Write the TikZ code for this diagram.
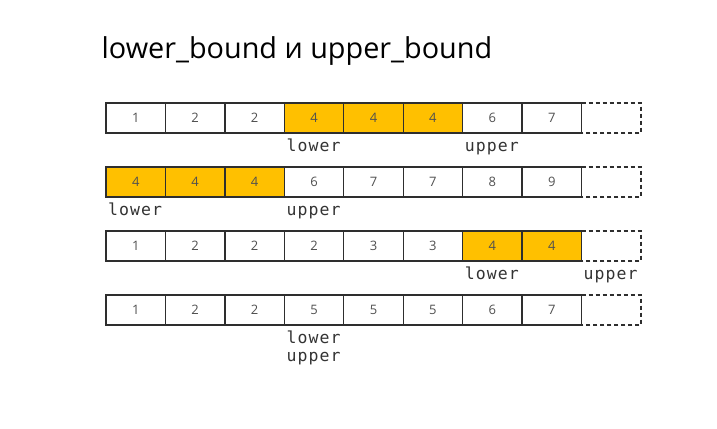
\documentclass[tikz,border=0pt]{standalone}
\usepackage{fontspec}
\setmainfont{Open Sans}
\newfontfamily\monof[LetterSpace=6.5]{DejaVu Sans Mono}
\newfontfamily\numf{Open Sans}
\definecolor{linec}{HTML}{2E2E2E}
\definecolor{numc}{HTML}{505050}
\definecolor{hl}{HTML}{FFC000}
\definecolor{labc}{HTML}{333333}
\begin{document}
\begin{tikzpicture}[x=1bp,y=-1bp]
\useasboundingbox[fill=white] (0,0) rectangle (717,428);
\tikzset{
  cell/.style={draw=linec, line width=1.4bp, minimum width=59.44bp, minimum height=30bp,
    inner sep=0pt, outer sep=0pt, font=\numf\fontsize{13bp}{15bp}\selectfont, text=numc},
  cwht/.style={cell, fill=white},
  cylw/.style={cell, fill=hl},
  dcell/.style={minimum width=59.44bp, minimum height=30bp, inner sep=0pt, outer sep=0pt},
  dline/.style={draw=linec, line width=1.4bp, dash pattern=on 4bp off 3bp},
  lab/.style={anchor=base west, inner sep=0pt, text=labc,
    font=\monof\fontsize{16.5bp}{18bp}\selectfont},
  ttl/.style={anchor=base west, inner sep=0pt, font=\fontsize{28.8bp}{34bp}\selectfont, text=black}
}
\node[ttl] (title) at (101.5,58) {lower\_bound и upper\_bound};
% rows
\foreach \r/\top/\vals in {1/103/{1/cwht,2/cwht,2/cwht,4/cylw,4/cylw,4/cylw,6/cwht,7/cwht},
                           2/167/{4/cylw,4/cylw,4/cylw,6/cwht,7/cwht,7/cwht,8/cwht,9/cwht},
                           3/231/{1/cwht,2/cwht,2/cwht,2/cwht,3/cwht,3/cwht,4/cylw,4/cylw},
                           4/295/{1/cwht,2/cwht,2/cwht,5/cwht,5/cwht,5/cwht,6/cwht,7/cwht}}{
  \foreach \v/\s [count=\i] in \vals {
    \node[\s] (r\r c\i) at ({106+59.44*(\i-0.5)},{\top+15}) {\v};
  }
  \node[dcell] (r\r d) at ({106+59.44*8.5},{\top+15}) {};
  \draw[dline] (r\r d.north west) -- (r\r d.north east) -- (r\r d.south east) -- (r\r d.south west);
}
% labels
\node[lab] (lo1) at ([xshift=2bp,yshift=-18bp]r1c4.south west) {lower};
\node[lab] (up1) at ([xshift=2bp,yshift=-18bp]r1c7.south west) {upper};
\node[lab] (lo2) at ([xshift=2bp,yshift=-18bp]r2c1.south west) {lower};
\node[lab] (up2) at ([xshift=2bp,yshift=-18bp]r2c4.south west) {upper};
\node[lab] (lo3) at ([xshift=2bp,yshift=-18bp]r3c7.south west) {lower};
\node[lab] (up3) at ([xshift=2bp,yshift=-18bp]r3d.south west) {upper};
\node[lab] (lo4) at ([xshift=2bp,yshift=-18bp]r4c4.south west) {lower};
\node[lab] (up4) at ([xshift=2bp,yshift=-36bp]r4c4.south west) {upper};
\end{tikzpicture}
\end{document}
